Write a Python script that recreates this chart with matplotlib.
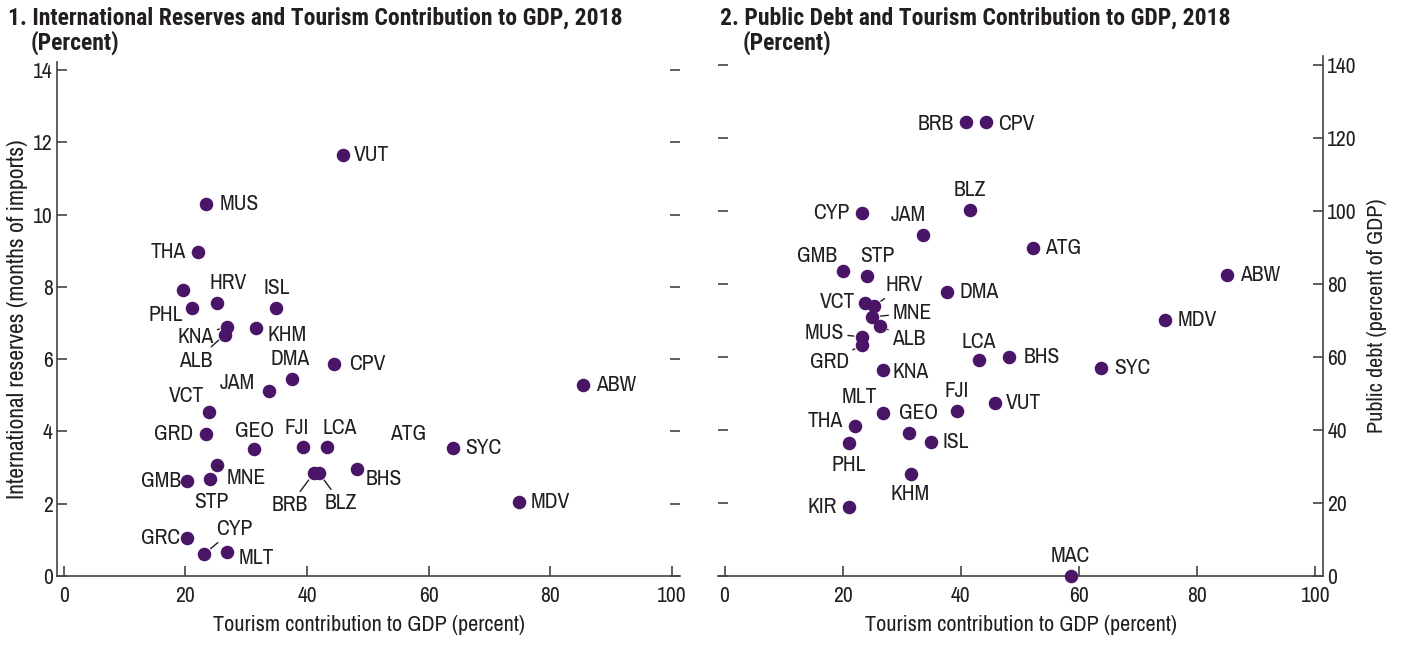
import matplotlib
matplotlib.use('Agg')
import matplotlib.pyplot as plt

plt.rcParams['font.family'] = ['Archivo Narrow', 'DejaVu Sans']

# Panel 1: international reserves (months of imports) vs tourism share of GDP
res_codes = ['VUT', 'MUS', 'THA', '', 'HRV', 'PHL', 'ISL', 'KNA', 'ALB', 'KHM',
             'DMA', 'CPV', 'JAM', 'ABW', 'VCT', 'GRD', 'GEO', 'FJI', 'LCA', 'SYC',
             'BHS', 'MNE', 'STP', 'GMB', 'BRB', 'BLZ', 'MDV', 'GRC', 'CYP', 'MLT']
res_tourism = [45.9, 23.4, 22.0, 19.6, 25.2, 21.1, 34.9, 26.9, 26.5, 31.6,
               37.5, 44.4, 33.7, 85.4, 23.9, 23.4, 31.3, 39.3, 43.3, 64.0,
               48.2, 25.2, 24.1, 20.2, 41.1, 42.0, 74.8, 20.2, 23.1, 26.9]
res_reserves = [11.66, 10.3, 8.97, 7.92, 7.56, 7.42, 7.42, 6.90, 6.68, 6.86,
                5.46, 5.87, 5.11, 5.29, 4.55, 3.93, 3.51, 3.58, 3.58, 3.55,
                2.96, 3.06, 2.69, 2.63, 2.84, 2.84, 2.05, 1.06, 0.61, 0.66]
# ATG label appears without a marker in the source chart
atg_label_pos = (56.6, 3.93)

# Panel 2: public debt (percent of GDP) vs tourism share of GDP
debt_codes = ['BRB', 'CPV', 'BLZ', 'CYP', 'JAM', 'ATG', 'GMB', 'STP', 'ABW', 'DMA',
              'MDV', 'HRV', 'VCT', 'MNE', 'ALB', 'MUS', 'GRD', 'LCA', 'BHS', 'SYC',
              'KNA', 'MLT', 'GEO', 'FJI', 'VUT', 'THA', 'PHL', 'ISL', 'KHM', 'KIR', 'MAC']
debt_tourism = [40.9, 44.3, 41.6, 23.2, 33.6, 52.2, 20.1, 24.2, 85.1, 37.6,
                74.5, 25.3, 23.8, 25.0, 26.3, 23.3, 23.3, 43.1, 48.2, 63.8,
                26.8, 26.8, 31.2, 39.3, 45.8, 22.1, 21.1, 34.9, 31.5, 21.0, 58.6]
debt_values = [124.4, 124.4, 100.3, 99.5, 93.4, 89.9, 83.6, 82.2, 82.5, 77.8,
               70.1, 74.0, 74.8, 71.0, 68.5, 65.5, 63.3, 59.2, 60.0, 57.0,
               56.4, 44.7, 39.2, 45.2, 47.4, 41.1, 36.4, 36.7, 27.9, 18.9, 0.0]

# label offsets in pixels (dx, dy, leader line)
res_offsets = {
    'VUT': (29, 0, False), 'MUS': (33, 0, False), 'THA': (-29, 0, False),
    'HRV': (11, 20, False), 'PHL': (-26, -7, False), 'ISL': (1, 20, False),
    'KNA': (-32, -10, True), 'ALB': (-29, -26, True), 'KHM': (31, -7, False),
    'DMA': (-2, 20, False), 'CPV': (34, 0, False), 'JAM': (-31, 8, False),
    'ABW': (33, 0, False), 'VCT': (-23, 16, False), 'GRD': (-32, 0, False),
    'GEO': (0, 18, False), 'FJI': (-6, 19, False), 'LCA': (13, 19, False),
    'SYC': (30, 0, False), 'BHS': (27, -10, False), 'MNE': (29, -13, True),
    'STP': (1, -23, False), 'GMB': (-26, 0, False), 'BRB': (-24, -32, True),
    'BLZ': (22, -30, True), 'MDV': (32, 0, False), 'GRC': (-26, 0, False),
    'CYP': (30, 25, True), 'MLT': (29, -6, False),
}
debt_offsets = {
    'BRB': (-30, -2, False), 'CPV': (30, -2, False), 'BLZ': (0, 20, False),
    'CYP': (-30, 0, False), 'JAM': (-15, 20, False), 'ATG': (30, 0, False),
    'GMB': (-26, 15, False), 'STP': (10, 20, False), 'ABW': (33, 0, False),
    'DMA': (32, 0, False), 'MDV': (33, 0, False), 'HRV': (30, 21, True),
    'VCT': (-28, 1, False), 'MNE': (40, 4, True), 'ALB': (29, -13, True),
    'MUS': (-38, 4, True), 'GRD': (-33, -17, True), 'LCA': (0, 18, False),
    'BHS': (32, 0, False), 'SYC': (31, 0, False), 'KNA': (28, -2, False),
    'MLT': (-24, 16, False), 'GEO': (10, 20, False), 'FJI': (0, 20, False),
    'VUT': (28, 0, False), 'THA': (-30, 5, False), 'PHL': (0, -22, False),
    'ISL': (25, 0, False), 'KHM': (0, -20, False), 'KIR': (-26, 0, False),
    'MAC': (0, 20, False),
}

dot_color = '#4a1567'
text_color = '#231f20'
axis_color = '#444444'
fs = 15.5
title_family = ['Roboto Condensed', 'Fira Sans Condensed', 'Archivo Narrow']


def label_points(ax, xs, ys, codes, offsets):
    for x, y, code in zip(xs, ys, codes):
        if not code:
            continue
        dx, dy, leader = offsets[code]
        kw = {}
        if leader:
            kw['arrowprops'] = dict(arrowstyle='-', color=text_color, lw=1,
                                    shrinkA=1, shrinkB=6)
        ax.annotate(code, (x, y), xytext=(dx, dy), textcoords='offset pixels',
                    ha='center', va='center', fontsize=fs, color=text_color,
                    annotation_clip=False, **kw)


def style_axes(ax, spine_side):
    for side in ['top', 'left', 'right']:
        ax.spines[side].set_visible(side == spine_side)
    for s in ax.spines.values():
        s.set_color(axis_color)
        s.set_linewidth(1.2)
    ax.tick_params(axis='both', direction='in', length=7, width=1.2,
                   color=axis_color, labelsize=fs, labelcolor=text_color)
    ax.tick_params(axis='y', left=True, right=True)
    ax.tick_params(axis='x', pad=7)
    ax.set_xlim(-1.1, 101.3)
    ax.set_xticks(range(0, 101, 20))
    ax.set_xlabel('Tourism contribution to GDP (percent)', fontsize=16,
                  color=text_color, labelpad=7)


fig = plt.figure(figsize=(14.04, 6.46), dpi=100)
ax1 = fig.add_axes([0.0406, 0.1084, 0.4437, 0.7956])
ax2 = fig.add_axes([0.5114, 0.1084, 0.4309, 0.8049])

# left panel
ax1.scatter(res_tourism, res_reserves, s=95, color=dot_color, zorder=3,
            clip_on=False, linewidths=0)
label_points(ax1, res_tourism, res_reserves, res_codes, res_offsets)
ax1.text(atg_label_pos[0], atg_label_pos[1], 'ATG', ha='center', va='center',
         fontsize=fs, color=text_color)
style_axes(ax1, 'left')
ax1.set_ylim(0, 14.22)
ax1.set_yticks(range(0, 15, 2))
ax1.tick_params(axis='y', labelleft=True, labelright=False, pad=3)
ax1.set_ylabel('International reserves (months of imports)', fontsize=17,
               color=text_color, labelpad=4)

# right panel
ax2.scatter(debt_tourism, debt_values, s=95, color=dot_color, zorder=3,
            clip_on=False, linewidths=0)
label_points(ax2, debt_tourism, debt_values, debt_codes, debt_offsets)
style_axes(ax2, 'right')
ax2.set_ylim(0, 142.5)
ax2.set_yticks(range(0, 141, 20))
ax2.tick_params(axis='y', labelleft=False, labelright=True, pad=3)
ax2.yaxis.set_label_position('right')
ax2.set_ylabel('Public debt (percent of GDP)', fontsize=16, color=text_color,
               labelpad=7)

# titles
for x0, title in [(0.006, '1. International Reserves and Tourism Contribution to GDP, 2018'),
                  (0.5128, '2. Public Debt and Tourism Contribution to GDP, 2018')]:
    fig.text(x0, 0.972, title, fontsize=17, fontweight='bold',
             family=title_family, color=text_color, va='center')
    fig.text(x0 + 0.0158, 0.933, '(Percent)', fontsize=17, fontweight='bold',
             family=title_family, color=text_color, va='center')

fig.savefig('out.png', dpi=100)
